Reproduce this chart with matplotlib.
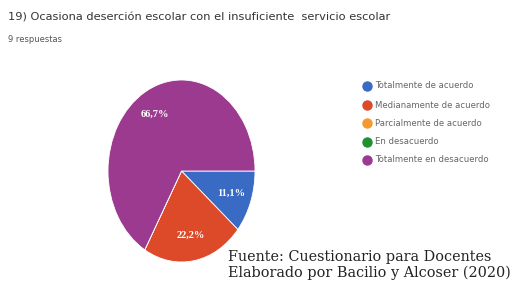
import matplotlib.pyplot as plt
from matplotlib.lines import Line2D

categories = ['Totalmente de acuerdo', 'Medianamente de acuerdo', 'Parcialmente de acuerdo',
              'En desacuerdo', 'Totalmente en desacuerdo']
counts = [1, 2, 0, 0, 6]
colors = ['#3a6bc4', '#dc4a2a', '#f59a2e', '#1f9130', '#9b3a8e']

title = '19) Ocasiona deserción escolar con el insuficiente  servicio escolar'
subtitle = '9 respuestas'
source = ['Fuente: Cuestionario para Docentes', 'Elaborado por Bacilio y Alcoser (2020)']

W, H = 528, 283
fig = plt.figure(figsize=(W / 100, H / 100), dpi=100)
fig.patch.set_facecolor('white')

def pct(p):
    if p < 0.5:
        return ''
    return f'{p:.1f}%'.replace('.', ',')

# pie axes (ellipse comes from the non-square axes)
ax = fig.add_axes([108 / W, 1 - 262 / H, 147 / W, 182 / H])
wedges, texts, autotexts = ax.pie(counts, colors=colors, startangle=0, counterclock=False,
                                  autopct=pct, pctdistance=0.72,
                                  wedgeprops=dict(edgecolor='white', linewidth=0.6),
                                  textprops=dict(color='white', fontsize=7.5,
                                                 family='Liberation Serif', weight='bold'))
ax.set_aspect('auto')
ax.set_xlim(-1, 1)
ax.set_ylim(-1, 1)
ax.axis('off')

fig.text(8 / W, 1 - 17 / H, title, fontsize=8.2, color='#333333', va='center', ha='left')
fig.text(8 / W, 1 - 40 / H, subtitle, fontsize=6, color='#555555', va='center', ha='left')

# legend
ys = [86, 105, 123, 142, 160]
for c, lab, y in zip(colors, categories, ys):
    fig.add_artist(Line2D([367 / W], [1 - y / H], marker='o', markersize=6.5,
                          color=c, linestyle='none'))
    fig.text(375 / W, 1 - y / H, lab, fontsize=6.1, color='#666666', va='center', ha='left')

fig.text(228 / W, 1 - 257 / H, source[0], fontsize=10.4, family='DejaVu Serif',
         color='#222222', va='center', ha='left')
fig.text(228 / W, 1 - 273 / H, source[1], fontsize=10.4, family='DejaVu Serif',
         color='#222222', va='center', ha='left')

fig.savefig('out.png', dpi=100)
